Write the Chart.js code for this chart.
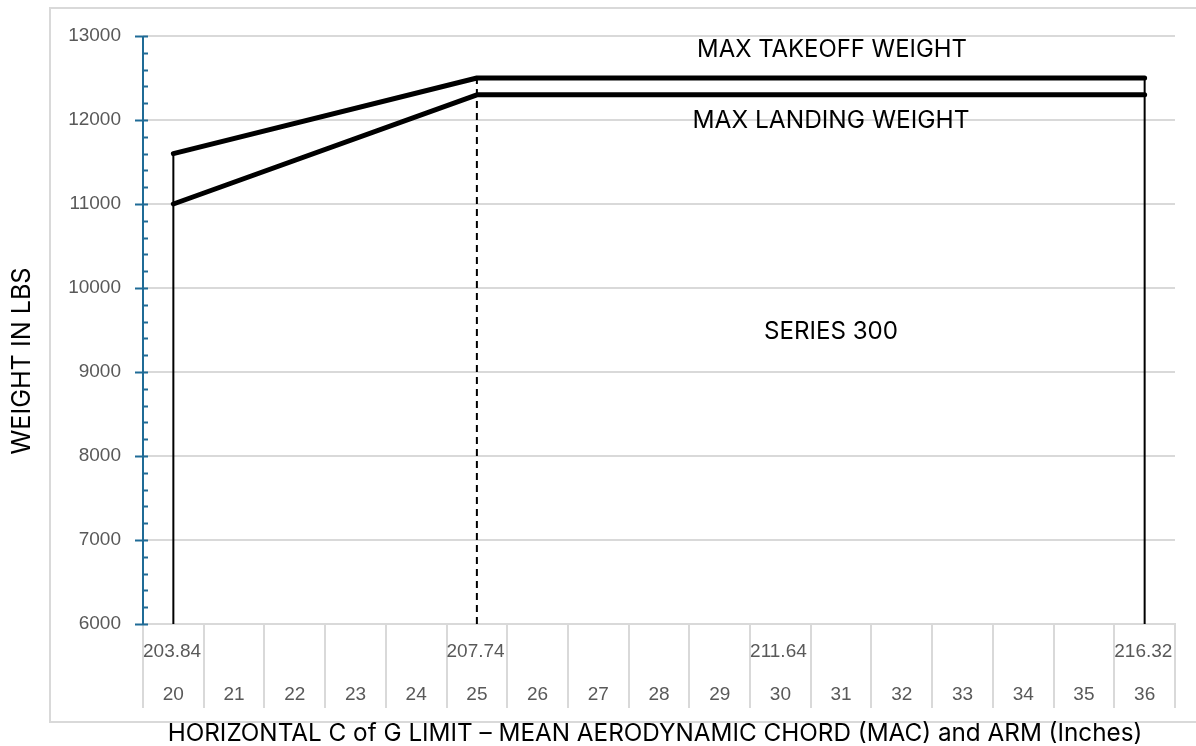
<!DOCTYPE html>
<html>
<head>
<meta charset="utf-8">
<script src="https://cdn.jsdelivr.net/npm/chart.js@4.4.1/dist/chart.umd.min.js"></script>
<style>
  html, body { margin: 0; padding: 0; background: #fff; }
</style>
</head>
<body>
<canvas id="cg" width="1196" height="746"></canvas>
<script>
// MAC (%) categories and matching arm (inches) labels
const macLabels = ['20', '21', '22', '23', '24', '25', '26', '27', '28', '29', '30', '31', '32', '33', '34', '35', '36'];
const armLabels = ['203.84', '', '', '', '', '207.74', '', '', '', '', '211.64', '', '', '', '', '', '216.32'];

// weight limits (lbs)
const maxTakeoff = [11600, null, null, null, null, 12500, null, null, null, null, null, null, null, null, null, null, 12500];
const maxLanding = [11000, null, null, null, null, 12300, null, null, null, null, null, null, null, null, null, null, 12300];

// vertical C of G limits
const fwdLimit = [{ x: '20', y: 6000 }, { x: '20', y: 11600 }];
const midLimit = [{ x: '25', y: 6000 }, { x: '25', y: 12500 }];
const aftLimit = [{ x: '36', y: 6000 }, { x: '36', y: 12500 }];

const yMin = 6000, yMax = 13000, yStep = 1000, yMinorStep = 200;

const axisBlue = '#1f6b96';
const lightGrey = '#d9d9d9';
const tickGrey = '#595959';

function fitText(ctx, text, cx, cy, width, family, rotate) {
  ctx.save();
  ctx.font = '20px ' + family;
  const w = ctx.measureText(text).width;
  const size = 20 * width / w;
  ctx.font = size.toFixed(2) + 'px ' + family;
  ctx.fillStyle = '#000';
  ctx.textAlign = 'center';
  ctx.textBaseline = 'middle';
  ctx.translate(cx, cy);
  if (rotate) ctx.rotate(-Math.PI / 2);
  ctx.fillText(text, 0, 0);
  ctx.restore();
}

const decorPlugin = {
  id: 'decor',
  beforeDraw(chart) {
    const ctx = chart.ctx;
    ctx.save();
    ctx.strokeStyle = lightGrey;
    ctx.lineWidth = 2;
    ctx.strokeRect(50, 8, 1200, 714);
    ctx.restore();
  },
  afterDraw(chart) {
    const ctx = chart.ctx;
    const xs = chart.scales.x, ys = chart.scales.y;
    const area = chart.chartArea;
    const step = xs.getPixelForValue(1) - xs.getPixelForValue(0);

    // category dividers below the axis
    ctx.save();
    ctx.strokeStyle = lightGrey;
    ctx.lineWidth = 2;
    for (let i = 0; i <= macLabels.length; i++) {
      const x = Math.round(xs.getPixelForValue(0) - step / 2 + i * step);
      ctx.beginPath();
      ctx.moveTo(x, area.bottom);
      ctx.lineTo(x, area.bottom + 84);
      ctx.stroke();
    }
    // arm labels row, left aligned in the bin
    ctx.fillStyle = tickGrey;
    ctx.font = '19px "Liberation Sans", Arial, sans-serif';
    ctx.textAlign = 'left';
    ctx.textBaseline = 'middle';
    armLabels.forEach((t, i) => {
      if (!t) return;
      const x = xs.getPixelForValue(i) - step / 2;
      ctx.fillText(t, x, area.bottom + 28);
    });
    ctx.restore();

    // blue value axis with major and minor ticks
    ctx.save();
    ctx.strokeStyle = axisBlue;
    ctx.lineWidth = 2;
    const ax = area.left;
    ctx.beginPath();
    ctx.moveTo(ax, ys.getPixelForValue(yMax));
    ctx.lineTo(ax, ys.getPixelForValue(yMin));
    ctx.stroke();
    for (let v = yMin; v <= yMax; v += yMinorStep) {
      const y = Math.round(ys.getPixelForValue(v)) + 0.5;
      ctx.beginPath();
      if (v % yStep === 0) {
        ctx.moveTo(ax - 8, y);
      } else {
        ctx.moveTo(ax, y);
      }
      ctx.lineTo(ax + 5, y);
      ctx.stroke();
    }
    ctx.restore();

    // titles and notes
    const fam = 'Inter, "Open Sans", sans-serif';
    fitText(ctx, 'MAX TAKEOFF WEIGHT', 832, 50, 270, fam);
    fitText(ctx, 'MAX LANDING WEIGHT', 831, 121, 277, fam);
    fitText(ctx, 'SERIES 300', 831, 332, 134, fam);
    fitText(ctx, 'WEIGHT IN LBS', 22, 361, 187, fam, true);
    fitText(ctx, 'HORIZONTAL C of G LIMIT \u2013 MEAN AERODYNAMIC CHORD (MAC) and ARM (Inches)', 655, 734, 975, fam);
  }
};

const thick = { borderColor: '#000', borderWidth: 5, borderCapStyle: 'round', borderJoinStyle: 'round', pointRadius: 0, spanGaps: true, tension: 0 };
const thin = { borderColor: '#000', borderWidth: 2, pointRadius: 0, tension: 0 };

new Chart(document.getElementById('cg').getContext('2d'), {
  type: 'line',
  data: {
    labels: macLabels,
    datasets: [
      Object.assign({ label: 'Forward limit', data: fwdLimit }, thin),
      Object.assign({ label: 'Mid limit', data: midLimit, borderDash: [7, 5] }, thin),
      Object.assign({ label: 'Aft limit', data: aftLimit }, thin),
      Object.assign({ label: 'Max takeoff weight', data: maxTakeoff }, thick),
      Object.assign({ label: 'Max landing weight', data: maxLanding }, thick)
    ]
  },
  options: {
    responsive: false,
    animation: false,
    layout: { padding: { top: 36, right: 21, left: 0, bottom: 0 } },
    plugins: { legend: { display: false }, tooltip: { enabled: false } },
    scales: {
      x: {
        type: 'category',
        offset: true,
        afterFit(scale) {
          scale.height = 122;
          scale.paddingLeft = 0;
          scale.paddingRight = 0;
        },
        grid: { display: false, drawTicks: false },
        border: { display: true, color: lightGrey, width: 2 },
        ticks: {
          color: tickGrey,
          font: { size: 19, family: '"Liberation Sans", Arial, sans-serif' },
          padding: 59,
          maxRotation: 0,
          autoSkip: false
        }
      },
      y: {
        min: yMin,
        max: yMax,
        afterFit(scale) {
          scale.width = 143;
          scale.paddingTop = 0;
          scale.paddingBottom = 0;
        },
        grid: { color: lightGrey, lineWidth: 2, drawTicks: false },
        border: { display: false },
        ticks: {
          stepSize: yStep,
          color: tickGrey,
          font: { size: 19, family: '"Liberation Sans", Arial, sans-serif' },
          padding: 22,
          callback: (v) => String(v)
        }
      }
    }
  },
  plugins: [decorPlugin]
});
</script>
</body>
</html>
